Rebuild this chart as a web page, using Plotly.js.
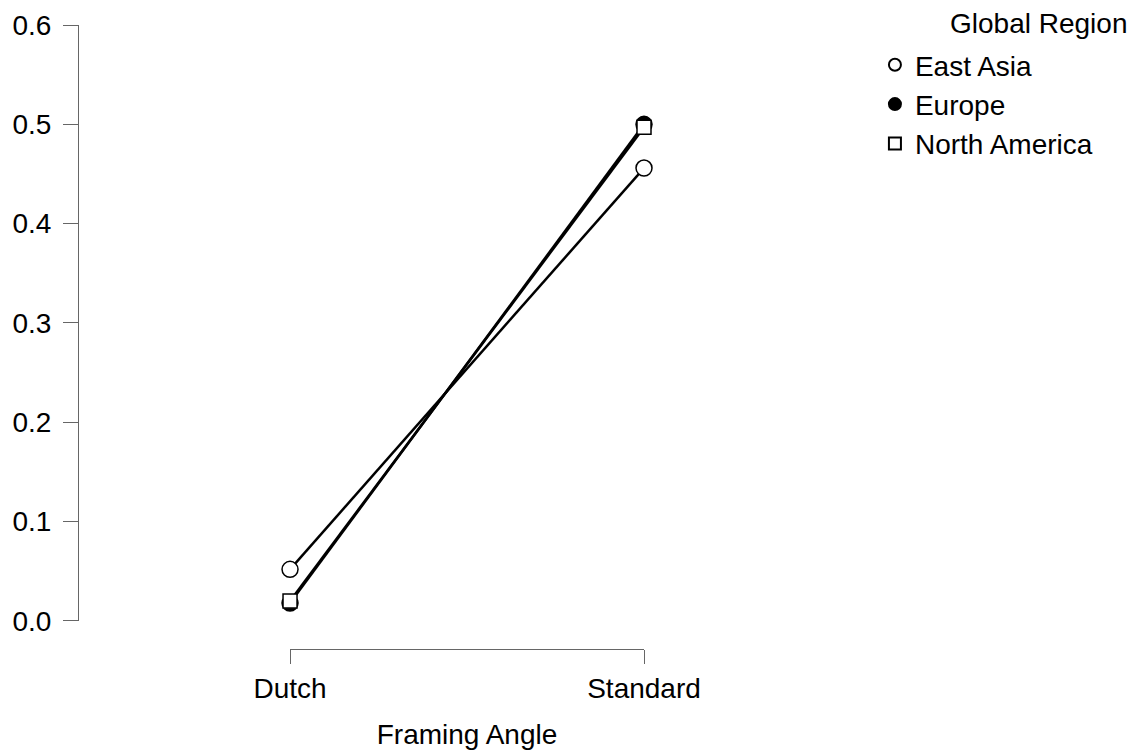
<!DOCTYPE html>
<html>
<head>
<meta charset="utf-8">
<script src="https://cdn.plot.ly/plotly-3.0.1.min.js"></script>
<style>
  html, body { margin: 0; padding: 0; background: #ffffff; }
  #chart { width: 1134px; height: 752px; }
</style>
</head>
<body>
<div id="chart"></div>
<script>
// Proportion by framing angle, one line per global region
const angles = ['Dutch', 'Standard'];
const regionNames = ['East Asia', 'Europe', 'North America'];
const eastAsia = [0.052, 0.456];
const europe = [0.018, 0.500];
const northAmerica = [0.020, 0.497];
const yTicks = [0.0, 0.1, 0.2, 0.3, 0.4, 0.5, 0.6];

const seriesValues = [eastAsia, europe, northAmerica];
const markerStyles = [
  { symbol: 'circle', size: 16, color: '#ffffff' },
  { symbol: 'circle', size: 16, color: '#000000' },
  { symbol: 'square', size: 14, color: '#ffffff' }
];

const FONT = 'Arial, "Liberation Sans", sans-serif';
const FS = 28;
const traces = [];

// connecting lines (kept out of the legend)
seriesValues.forEach((vals, i) => {
  traces.push({
    type: 'scatter', mode: 'lines',
    x: angles, y: vals,
    line: { color: '#000000', width: 2.5 },
    showlegend: false, hoverinfo: 'skip'
  });
});

// point markers, which also feed the legend
seriesValues.forEach((vals, i) => {
  const m = markerStyles[i];
  traces.push({
    type: 'scatter', mode: 'markers',
    name: regionNames[i],
    legendgroup: regionNames[i],
    x: angles, y: vals,
    cliponaxis: false,
    marker: {
      symbol: m.symbol, size: m.size, color: m.color,
      line: { color: '#000000', width: 1.5 }
    }
  });
});

const layout = {
  width: 1134, height: 752,
  margin: { l: 78, r: 490, t: 25, b: 103 },
  paper_bgcolor: '#ffffff', plot_bgcolor: '#ffffff',
  font: { family: FONT, size: FS, color: '#000000' },
  showlegend: true,
  xaxis: {
    type: 'category',
    domain: [0.3746, 1],
    range: [0, 1],
    anchor: 'free', position: 0,
    showline: true, linecolor: '#666666', linewidth: 1,
    ticks: 'outside', ticklen: 14, tickcolor: '#666666', tickwidth: 1,
    showgrid: false, zeroline: false,
    tickfont: { family: FONT, size: FS, color: '#000000' },
    title: { text: 'Framing Angle', standoff: 21, font: { family: FONT, size: FS, color: '#000000' } }
  },
  yaxis: {
    domain: [0.0449, 1],
    range: [0, 0.6],
    anchor: 'free', position: 0,
    tickvals: yTicks, tickformat: '.1f',
    showline: true, linecolor: '#666666', linewidth: 1,
    ticks: 'outside', ticklen: 15, tickcolor: '#666666', tickwidth: 1,
    ticklabelstandoff: 6,
    showgrid: false, zeroline: false,
    tickfont: { family: FONT, size: FS, color: '#000000' }
  },
  legend: {
    x: 1.408, xanchor: 'left',
    y: 0.976, yanchor: 'top',
    traceorder: 'grouped', tracegroupgap: 0,
    itemsizing: 'constant',
    font: { family: FONT, size: FS, color: '#000000' },
    bgcolor: 'rgba(0,0,0,0)'
  },
  annotations: [{
    text: 'Global Region',
    xref: 'paper', yref: 'paper',
    x: 1.5371, y: 1.0032,
    xanchor: 'left', yanchor: 'middle',
    showarrow: false,
    font: { family: FONT, size: FS, color: '#000000' }
  }]
};

Plotly.newPlot('chart', traces, layout, { displayModeBar: false, staticPlot: true });
</script>
</body>
</html>
